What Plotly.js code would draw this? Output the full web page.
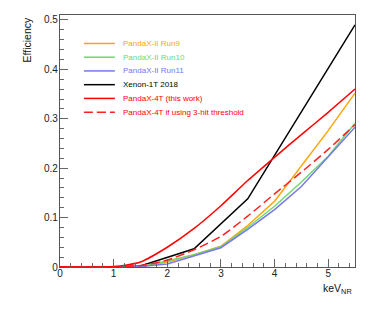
<!DOCTYPE html>
<html>
<head>
<meta charset="utf-8">
<script src="https://cdn.plot.ly/plotly-3.0.1.min.js"></script>
<style>html,body{margin:0;padding:0;background:#fff;}#chart{width:374px;height:319px;}</style>
</head>
<body>
<div id="chart"></div>
<script>
// ---- data ----
const run9X  = [0, 1.5, 2, 2.5, 3, 3.5, 4, 4.5, 5, 5.5];
const run9Y  = [0, 0.001, 0.010, 0.025, 0.042, 0.084, 0.133, 0.204, 0.276, 0.352];
const run10X = [0, 1.5, 2, 2.5, 3, 3.5, 4, 4.5, 5, 5.5];
const run10Y = [0, 0.001, 0.012, 0.025, 0.041, 0.080, 0.123, 0.172, 0.224, 0.291];
const run11X = [0, 1.5, 2, 2.5, 3, 3.5, 4, 4.5, 4.9, 5.5];
const run11Y = [0, 0.001, 0.006, 0.022, 0.039, 0.076, 0.116, 0.163, 0.211, 0.283];
const xenonX = [0, 1, 1.5, 2.5, 3.5, 5.5];
const xenonY = [0, 0, 0.002, 0.037, 0.138, 0.49];
const px4tX  = [0, 0.5, 1, 1.25, 1.5, 2, 2.5, 3, 3.5, 4, 4.5, 5, 5.5];
const px4tY  = [0, 0, 0.001, 0.004, 0.010, 0.040, 0.078, 0.124, 0.175, 0.222, 0.268, 0.313, 0.360];
const px3hX  = [0, 1, 1.5, 2, 2.5, 3, 3.5, 4, 4.5, 5, 5.5];
const px3hY  = [0, 0, 0.003, 0.014, 0.035, 0.062, 0.103, 0.148, 0.192, 0.238, 0.288];

const names  = ['PandaX-II Run9', 'PandaX-II Run10', 'PandaX-II Run11', 'Xenon-1T 2018', 'PandaX-4T (this work)', 'PandaX-4T if using 3-hit threshold'];
const colors = ['#ffa500', '#6fd86f', '#7777ee', '#000000', '#ff0000', '#ff2020'];
const textColors = ['#ffa500', '#6fd86f', '#7777ee', '#000000', '#ff0000', '#ff0000'];
const dashes = ['solid', 'solid', 'solid', 'solid', 'solid', '9px,4px'];
const xs = [run9X, run10X, run11X, xenonX, px4tX, px3hX];
const ys = [run9Y, run10Y, run11Y, xenonY, px4tY, px3hY];
const shapesCurve = ['linear', 'linear', 'linear', 'linear', 'spline', 'spline'];

const font = 'Liberation Sans, Arial, Helvetica, sans-serif';

const traces = xs.map((x, i) => ({
  x: x, y: ys[i], type: 'scatter', mode: 'lines', name: names[i],
  line: {color: colors[i], width: 1.5, dash: dashes[i], shape: shapesCurve[i], smoothing: 0.6},
  showlegend: false, hoverinfo: 'skip'
}));
const order = [3, 0, 1, 2, 5, 4];
const data = order.map(i => traces[i]);

// manual legend (ROOT style)
const legX0 = 0.081, legX1 = 0.186, legTextX = 0.207;
const legTop = 0.887, legStep = 0.0545;
const shapes = [];
const annotations = [];
names.forEach((n, i) => {
  const yy = legTop - i * legStep;
  shapes.push({type: 'line', xref: 'paper', yref: 'paper', x0: legX0, x1: legX1, y0: yy, y1: yy,
    line: {color: colors[i], width: 1.5, dash: dashes[i]}});
  annotations.push({xref: 'paper', yref: 'paper', x: legTextX, y: yy, xanchor: 'left', yanchor: 'middle',
    text: n, showarrow: false, font: {family: font, size: 8, color: textColors[i]}});
});
annotations.push({xref: 'paper', yref: 'paper', x: 0.995, y: -0.05, xanchor: 'right', yanchor: 'top',
  text: 'keV<sub>NR</sub>', showarrow: false, font: {family: font, size: 10.5, color: '#111'}});
annotations.push({xref: 'paper', yref: 'paper', x: -0.112, y: 1.0, xanchor: 'center', yanchor: 'top',
  text: 'Efficiency', textangle: -90, showarrow: false, font: {family: font, size: 10.5, color: '#111'}});

const axisCommon = {
  showgrid: false, zeroline: false, showline: true, mirror: true,
  linecolor: '#555', linewidth: 1.2, ticks: 'inside', tickcolor: '#666', tickwidth: 1,
  tickfont: {family: font, size: 10, color: '#222'}
};

const layout = {
  width: 374, height: 319,
  margin: {l: 60, r: 19, t: 15, b: 52},
  paper_bgcolor: '#fff', plot_bgcolor: '#fff',
  showlegend: false,
  xaxis: Object.assign({}, axisCommon, {
    range: [0, 5.5], dtick: 1, tick0: 0, ticklen: 8,
    minor: {dtick: 0.2, ticklen: 4, ticks: 'inside', tickcolor: '#666', tickwidth: 1},
    ticklabelstandoff: -3
  }),
  yaxis: Object.assign({}, axisCommon, {
    range: [0, 0.51], dtick: 0.1, tick0: 0, ticklen: 8,
    minor: {dtick: 0.02, ticklen: 4, ticks: 'inside', tickcolor: '#666', tickwidth: 1},
    ticklabelstandoff: -1
  }),
  shapes: shapes,
  annotations: annotations
};

Plotly.newPlot('chart', data, layout, {staticPlot: true, displayModeBar: false});
</script>
</body>
</html>
